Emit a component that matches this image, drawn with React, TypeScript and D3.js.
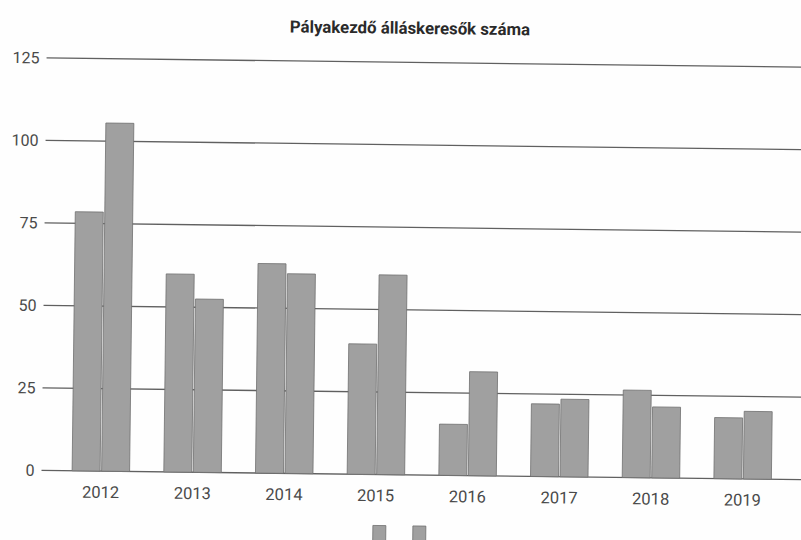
import React from "react";
import * as d3 from "d3";

const title = "Pályakezdő álláskeresők száma";
const years = ["2012", "2013", "2014", "2015", "2016", "2017", "2018", "2019"];
const seriesA = [78.5, 60, 63.5, 39.5, 15.5, 22, 26.5, 18.5];
const seriesB = [105.5, 52.5, 60.5, 60.5, 31.5, 23.5, 21.5, 20.5];
const yTicks = [0, 25, 50, 75, 100, 125];

const W = 801;
const H = 540;

export default function App() {
  const x = d3
    .scaleBand<string>()
    .domain(years)
    .range([57.5, 791])
    .paddingInner(0.373)
    .paddingOuter(0.1865);
  const y = d3.scaleLinear().domain([0, 125]).range([475, 62.5]);
  const gap = 1.5;
  const bw = (x.bandwidth() - gap) / 2;
  const barFill = "#a0a0a0";
  const barStroke = "#707070";
  const font = "Roboto, 'Noto Sans', sans-serif";

  return (
    <svg
      width={W}
      height={H}
      viewBox={`0 0 ${W} ${H}`}
      style={{ position: "absolute", left: 0, top: 0, display: "block", background: "#fefefe" }}
    >
      <g transform="rotate(0.7, 420, 270)">
        <text
          x={407}
          y={34}
          textAnchor="middle"
          fontFamily={font}
          fontWeight={700}
          fontSize={16.8}
          fill="#2a2a2a"
        >
          {title}
        </text>
        {yTicks.map((t) => (
          <g key={t}>
            <line x1={44} x2={820} y1={y(t)} y2={y(t)} stroke="#606060" strokeWidth={1.3} />
            <text
              x={37}
              y={y(t)}
              dy="0.35em"
              textAnchor="end"
              fontFamily={font}
              fontSize={16}
              fill="#4a4a4a"
            >
              {t}
            </text>
          </g>
        ))}
        {years.map((yr, i) => {
          const x0 = x(yr) as number;
          return (
            <g key={yr}>
              <rect
                x={x0}
                y={y(seriesA[i])}
                width={bw}
                height={y(0) - y(seriesA[i])}
                fill={barFill}
                stroke={barStroke}
                strokeWidth={0.8}
              />
              <rect
                x={x0 + bw + gap}
                y={y(seriesB[i])}
                width={bw}
                height={y(0) - y(seriesB[i])}
                fill={barFill}
                stroke={barStroke}
                strokeWidth={0.8}
              />
              <text
                x={x0 + x.bandwidth() / 2}
                y={y(0) + 21}
                dy="0.35em"
                textAnchor="middle"
                fontFamily={font}
                fontSize={16.5}
                fill="#4a4a4a"
              >
                {yr}
              </text>
            </g>
          );
        })}
        <rect x={376} y={526} width={13} height={16} fill={barFill} stroke={barStroke} strokeWidth={0.8} />
        <rect x={416} y={526} width={13} height={16} fill={barFill} stroke={barStroke} strokeWidth={0.8} />
      </g>
    </svg>
  );
}
